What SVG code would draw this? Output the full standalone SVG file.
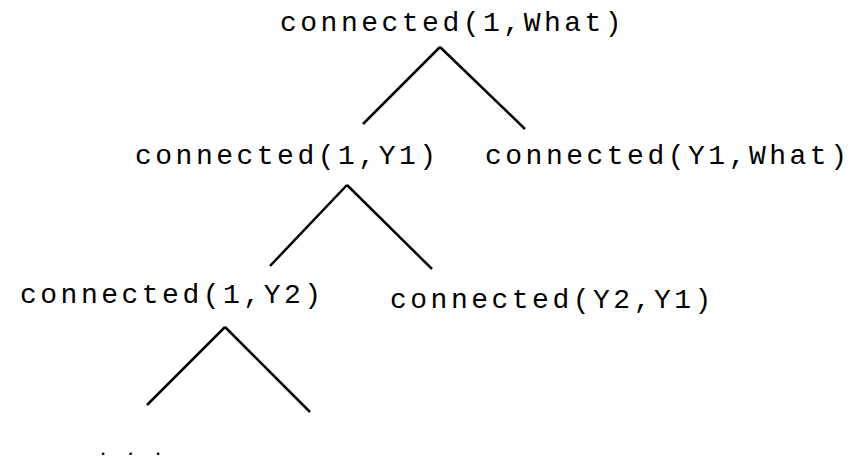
<svg xmlns="http://www.w3.org/2000/svg" width="866" height="460" viewBox="0 0 866 460">
<style>
text{font-family:"Liberation Mono","DejaVu Sans Mono",monospace;font-size:28px;letter-spacing:3.5px;fill:#000}
.c line{stroke:#000;stroke-width:2.5;stroke-linecap:butt}
</style>
<rect width="866" height="460" fill="#fff"/>
<g id="n1"><text x="280" y="31">connected(1,What)</text></g>
<g id="n2"><text x="135" y="164">connected(1,Y1)</text></g>
<g id="n3"><text x="485" y="164">connected(Y1,What)</text></g>
<g id="n4"><text x="20" y="303">connected(1,Y2)</text></g>
<g id="n5"><text x="390" y="308">connected(Y2,Y1)</text></g>
<g id="n6"><text x="98.2" y="455" style="font-size:16px;font-weight:bold;letter-spacing:17.9px">...</text></g>
<g class="c" id="connectors">
<line x1="440" y1="47" x2="363" y2="124"/>
<line x1="440" y1="47" x2="525" y2="129"/>
<line x1="347" y1="185" x2="270" y2="266"/>
<line x1="347" y1="185" x2="432" y2="269"/>
<line x1="225" y1="327" x2="147" y2="405"/>
<line x1="225" y1="327" x2="310" y2="412"/>
</g>
</svg>
